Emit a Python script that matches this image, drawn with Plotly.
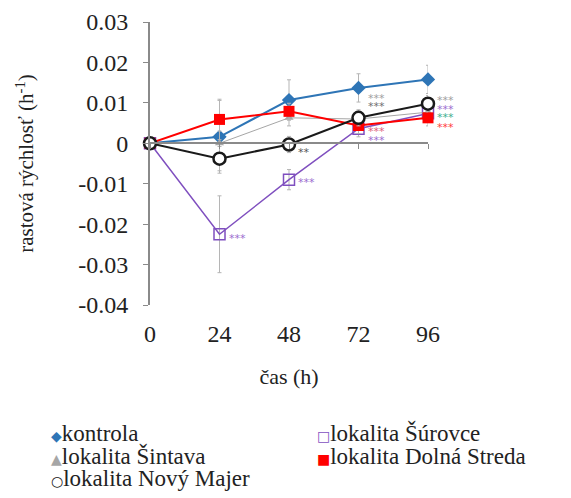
import plotly.graph_objects as go

# time points (h)
hours = [0, 24, 48, 72, 96]

# growth rate (h^-1) per series
kontrola = [0, 0.0016, 0.0107, 0.0137, 0.0158]
kontrola_err = [0, 0.009, 0.005, 0.0035, 0.0035]
surovce = [0, -0.0225, -0.009, 0.0036, 0.0074]
surovce_err = [0, 0.0095, 0.0025, 0.002, 0.002]
sintava = [0, 0.0, 0.0063, 0.006, 0.0077]
sintava_err = [0, 0.003, 0.002, 0.002, 0.002]
dolna_streda = [0, 0.0059, 0.0079, 0.0044, 0.0063]
dolna_streda_err = [0, 0.005, 0.002, 0.002, 0.002]
novy_majer = [0, -0.0038, -0.0003, 0.0063, 0.0098]
novy_majer_err = [0, 0.003, 0.002, 0.002, 0.002]

y_ticks = [0.03, 0.02, 0.01, 0, -0.01, -0.02, -0.03, -0.04]
y_tick_labels = ["0.03", "0.02", "0.01", "0", "-0.01", "-0.02", "-0.03", "-0.04"]

# significance marks: (x, y, text, colour)
stars = [
    (24, -0.0235, "***", "#9b6fd0"),
    (48, -0.0096, "***", "#9b6fd0"),
    (48, -0.0023, "**", "#555555"),
    (72, 0.0112, "***", "#a0a0a0"),
    (72, 0.0090, "***", "#707070"),
    (72, 0.0030, "***", "#e0607a"),
    (72, 0.0008, "***", "#9b6fd0"),
    (96, 0.0107, "***", "#a0a0a0"),
    (96, 0.0083, "***", "#9b6fd0"),
    (96, 0.0063, "***", "#3fae8e"),
    (96, 0.0039, "***", "#ff4040"),
]

SERIF = "'Liberation Serif', 'Times New Roman', serif"
GREY = "#8a8a8a"
ERR = dict(type="data", thickness=1, width=2, color="#b5b5b5")

fig = go.Figure()

# name, values, errors, colour, marker, line width, legend glyph, legend slot (col, row)
series = [
    ("kontrola", kontrola, kontrola_err, "#2E75B6",
     dict(symbol="diamond", size=11, color="#2E75B6"), 2, "◆", (0, 0)),
    ("lokalita Šúrovce", surovce, surovce_err, "#7F4FBF",
     dict(symbol="square-open", size=11, color="#7F4FBF", line=dict(width=1.5)), 1.5, "□", (1, 0)),
    ("lokalita Šintava", sintava, sintava_err, "#a6a6a6",
     dict(symbol="triangle-up", size=8, color="#a6a6a6"), 1, "▲", (0, 1)),
    ("lokalita Dolná Streda", dolna_streda, dolna_streda_err, "#FF0000",
     dict(symbol="square", size=11, color="#FF0000"), 2, "■", (1, 1)),
    ("lokalita Nový Majer", novy_majer, novy_majer_err, "#1a1a1a",
     dict(symbol="circle", size=12, color="white", line=dict(color="#1a1a1a", width=2.5)), 2, "<b>○</b>", (0, 2)),
]

for name, vals, err, col, marker, lw, glyph, slot in series:
    fig.add_trace(go.Scatter(
        x=hours, y=vals, name=name, mode="lines+markers",
        line=dict(color=col, width=lw), marker=marker,
        error_y=dict(array=err, **ERR), cliponaxis=False, showlegend=False,
    ))

# axis line across y = 0 with ticks, and short ticks on the y axis
fig.add_trace(go.Scatter(x=hours, y=[None] * 5, xaxis="x2", yaxis="y2",
                         showlegend=False, hoverinfo="skip"))

for x, y, txt, col in stars:
    fig.add_annotation(x=x, y=y, text=txt, showarrow=False, xanchor="left",
                       xshift=7, font=dict(size=11, color=col, family="DejaVu Sans"))

# legend drawn as text, two columns like the original
col_x = [-0.363, 0.5935]
row_y = [-0.4523, -0.5336, -0.6148]
for name, vals, err, col, marker, lw, glyph, slot in series:
    c, r = slot
    fig.add_annotation(
        xref="paper", yref="paper", x=col_x[c], y=row_y[r], xanchor="left", yanchor="middle",
        showarrow=False,
        text=f'<span style="color:{col};font-size:14px;font-family:DejaVu Sans">{glyph}</span>{name}',
        font=dict(size=23, family=SERIF, color="#222222"),
    )

# the page puts the figure 8 px in from the top-left corner
fig.update_layout(
    width=571, height=498,
    margin=dict(l=142, r=151, t=14, b=201, autoexpand=False),
    paper_bgcolor="white", plot_bgcolor="white",
    font=dict(family=SERIF, size=24, color="#222222"),
    showlegend=False,
    xaxis=dict(range=[0, 96], showline=False, showgrid=False, zeroline=False,
               tickvals=hours, ticks="", ticklabelstandoff=12,
               title=dict(text="čas (h)", font=dict(size=22), standoff=22),
               fixedrange=True),
    xaxis2=dict(range=[0, 96], overlaying="x", matches="x", anchor="free", position=4 / 7,
                showline=True, linecolor=GREY, linewidth=1.5, ticks="outside",
                tickvals=hours, ticklen=5, tickcolor=GREY, showticklabels=False,
                showgrid=False, zeroline=False),
    yaxis=dict(range=[-0.04, 0.03], tickvals=y_ticks, ticktext=y_tick_labels,
               showline=False, ticks="outside", ticklen=16, tickcolor="rgba(0,0,0,0)",
               showgrid=False, zeroline=False,
               title=dict(text="rastová rýchlosť (h<sup>-1</sup>)", font=dict(size=21), standoff=38)),
    yaxis2=dict(range=[-0.04, 0.03], overlaying="y", matches="y", anchor="x", side="left",
                showline=True, linecolor=GREY, linewidth=1.5, ticks="outside",
                tickvals=y_ticks, ticklen=5, tickcolor=GREY, showticklabels=False,
                showgrid=False, zeroline=False),
)

fig.write_html("out.html")
